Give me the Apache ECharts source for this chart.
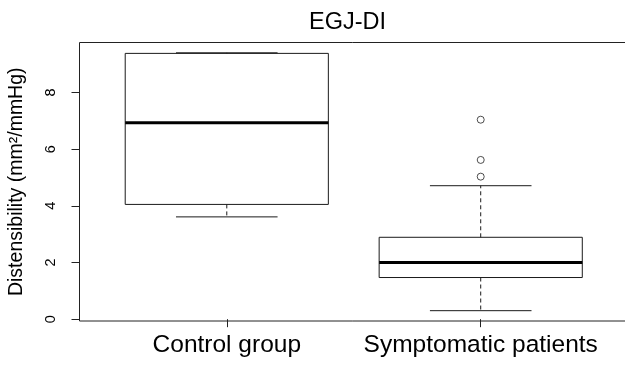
<!DOCTYPE html>
<html><head><meta charset="utf-8">
<script src="https://cdn.jsdelivr.net/npm/echarts@6/dist/echarts.min.js"></script>
<style>html,body{margin:0;padding:0;background:#fff}#c{width:625px;height:375px}</style>
</head><body><div id="c"></div>
<script>
const categories = ["Control group", "Symptomatic patients"];
// [min whisker, Q1, median, Q3, max whisker]
const controlStats = [3.61, 4.05, 6.93, 9.38, 9.40];
const symptomaticStats = [0.30, 1.47, 2.00, 2.89, 4.71];
const symptomaticOutliers = [5.03, 5.62, 7.04];
const yTicks = [0, 2, 4, 6, 8];

const boxData = [[1].concat(controlStats), [2].concat(symptomaticStats)];
const outlierData = symptomaticOutliers.map(v => [2, v]);

const chart = echarts.init(document.getElementById('c'), null, {renderer: 'canvas'});
const lineColor = '#1a1a1a';
chart.setOption({
  animation: false,
  title: {
    text: 'EGJ-DI', left: 304, top: 6,
    textStyle: {fontFamily: 'Liberation Sans', fontSize: 23.5, fontWeight: 'normal', color: '#000'}
  },
  grid: {left: 79.5, right: -3, top: 42.5, bottom: 54, outerBoundsMode: 'none', containLabel: false,
         show: true, borderColor: '#222', borderWidth: 1, backgroundColor: 'transparent'},
  xAxis: {
    type: 'value', min: 0.42, max: 2.58,
    axisLine: {show: false},
    splitLine: {show: false},
    axisTick: {show: true, length: 8, customValues: [1, 2], lineStyle: {color: '#222'}},
    axisLabel: {
      customValues: [1, 2], margin: 12,
      formatter: v => categories[Math.round(v) - 1],
      fontFamily: 'Liberation Sans', fontSize: 24.5, color: '#000'
    }
  },
  yAxis: {
    type: 'value', min: -0.064, max: 9.764,
    name: 'Distensibility (mm²/mmHg)', nameLocation: 'middle', nameGap: 53,
    nameTextStyle: {fontFamily: 'Liberation Sans', fontSize: 19.5, color: '#000'},
    axisLine: {show: false},
    splitLine: {show: false},
    axisTick: {show: true, length: 8, customValues: yTicks, lineStyle: {color: '#222'}},
    axisLabel: {
      customValues: yTicks, rotate: 90, margin: 21,
      fontFamily: 'Liberation Sans', fontSize: 14.5, color: '#000'
    }
  },
  series: [
    {
      type: 'custom',
      data: boxData,
      encode: {x: 0, y: [1, 2, 3, 4, 5]},
      renderItem: function (params, api) {
        const x = api.value(0);
        const pt = (dx, v) => api.coord([x + dx, v]);
        const mn = api.value(1), q1 = api.value(2), md = api.value(3), q3 = api.value(4), mx = api.value(5);
        const hw = 0.4, cw = 0.2;
        const tl = pt(-hw, q3), br = pt(hw, q1);
        const st = {stroke: lineColor, lineWidth: 1, fill: null};
        const children = [
          {type: 'rect', shape: {x: tl[0], y: tl[1], width: br[0] - tl[0], height: br[1] - tl[1]}, style: {stroke: lineColor, lineWidth: 1, fill: 'rgba(0,0,0,0)'}},
          {type: 'line', shape: {x1: pt(0, q3)[0], y1: pt(0, q3)[1], x2: pt(0, mx)[0], y2: pt(0, mx)[1]}, style: Object.assign({lineDash: [4, 3]}, st)},
          {type: 'line', shape: {x1: pt(0, q1)[0], y1: pt(0, q1)[1], x2: pt(0, mn)[0], y2: pt(0, mn)[1]}, style: Object.assign({lineDash: [4, 3]}, st)},
          {type: 'line', shape: {x1: pt(-cw, mx)[0], y1: pt(-cw, mx)[1], x2: pt(cw, mx)[0], y2: pt(cw, mx)[1]}, style: st},
          {type: 'line', shape: {x1: pt(-cw, mn)[0], y1: pt(-cw, mn)[1], x2: pt(cw, mn)[0], y2: pt(cw, mn)[1]}, style: st},
          {type: 'line', shape: {x1: pt(-hw, md)[0], y1: pt(-hw, md)[1], x2: pt(hw, md)[0], y2: pt(hw, md)[1]}, style: {stroke: '#000', lineWidth: 3}}
        ];
        return {type: 'group', children: children};
      }
    },
    {
      type: 'scatter',
      data: outlierData,
      symbol: 'circle', symbolSize: 7,
      itemStyle: {color: '#fff', borderColor: '#222', borderWidth: 1}
    }
  ]
});
</script>
</body></html>
